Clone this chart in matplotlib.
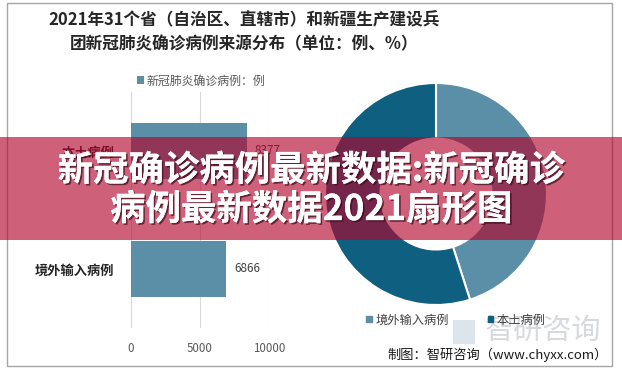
import matplotlib
matplotlib.use('Agg')
import matplotlib.pyplot as plt
import matplotlib.patheffects as pe
from matplotlib.patches import Rectangle

plt.rcParams['font.family'] = ['Noto Sans CJK SC', 'DejaVu Sans']

# Data
categories = ['本土病例', '境外输入病例']
cases = [8377, 6866]
pie_labels = ['境外输入病例', '本土病例']
pie_values = [6866, 8377]
x_ticks = [0, 5000, 10000]

title = '2021年31个省（自治区、直辖市）和新疆生产建设兵\n团新冠肺炎确诊病例来源分布（单位：例、%）'
banner = '新冠确诊病例最新数据:新冠确诊\n病例最新数据2021扇形图'
source = '制图：智研咨询（www.chyxx.com）'

W, H = 622, 378
light = '#5b8ea7'
dark = '#0e5f80'

fig = plt.figure(figsize=(W / 100, H / 100), dpi=100)

def fx(px):
    return px / W

def fy(py):
    return 1 - py / H

# Outer frame
fig.add_artist(Rectangle((fx(7), fy(366)), fx(605), (366 - 3) / H, transform=fig.transFigure,
                         fill=False, edgecolor='#a6a6a6', linewidth=1))

# Title
fig.text(fx(244), fy(32), title, ha='center', va='center', fontsize=12, fontweight='bold',
         color='#262626', linespacing=1.45)

# Bar chart
ax = fig.add_axes([fx(131), fy(328), fx(138), (328 - 92) / H])
ax.barh(categories, cases, height=0.47, color=light, label='新冠肺炎确诊病例：例', zorder=2)
ax.set_xlim(0, 10000)
ax.set_ylim(-0.5, 1.5)
ax.invert_yaxis()
ax.set_xticks(x_ticks)
ax.grid(axis='x', color='#d9d9d9', linewidth=0.8, zorder=0)
for s in ax.spines.values():
    s.set_visible(False)
ax.tick_params(axis='x', length=0, pad=10, labelsize=8.3, labelcolor='#595959')
ax.tick_params(axis='y', length=0, pad=12, labelsize=9.5)
for lab in ax.get_yticklabels():
    lab.set_fontweight('bold')
    lab.set_color('#262626')
for i, v in enumerate(cases):
    ax.text(v + 600, i, str(v), va='center', ha='left', fontsize=8.5, color='#404040')
ax.legend(loc='center left', bbox_to_anchor=(fx(126), fy(81)), bbox_transform=fig.transFigure,
          frameon=False, fontsize=8.6, handlelength=0.6, handleheight=0.6, handletextpad=0.2,
          labelcolor='#595959')

# Donut chart
r = 111
ax2 = fig.add_axes([fx(436 - r), fy(194 + r), fx(2 * r), 2 * r / H])
ax2.pie(pie_values, colors=[light, dark], startangle=90, counterclock=False, radius=1,
        wedgeprops=dict(width=0.5, edgecolor='white', linewidth=1.5))
ax2.set_xlim(-1, 1)
ax2.set_ylim(-1, 1)
ax2.set_aspect('equal')

# Watermark
fig.text(fx(543), fy(331), '智研咨询', ha='center', va='center', fontsize=21,
         color='#c9cdd2', alpha=0.75)
fig.add_artist(Rectangle((fx(453), fy(344)), fx(22), 24 / H, transform=fig.transFigure,
                         facecolor='#c5d3e0', edgecolor='none', alpha=0.6))

# Donut legend
handles = [Rectangle((0, 0), 1, 1, color=c) for c in [light, dark]]
fig.legend(handles, pie_labels, loc='center', bbox_to_anchor=(fx(456), fy(320)),
           ncol=2, frameon=False, fontsize=8.8, handlelength=0.45, handleheight=0.45,
           handletextpad=0.3, columnspacing=3.2, labelcolor='#404040')

# Source
fig.text(fx(608), fy(355), source, ha='right', va='center', fontsize=9.5, color='#1a1a1a')

# Overlay banner
fig.add_artist(Rectangle((0, fy(240)), 1, (240 - 137) / H, transform=fig.transFigure,
                         facecolor=(179 / 255, 3 / 255, 43 / 255), alpha=0.63,
                         edgecolor='none', zorder=10))
fig.text(0.5, fy(190), banner, ha='center', va='center', fontsize=25.5, fontweight='heavy',
         color='white', linespacing=1.15, zorder=11,
         path_effects=[pe.withSimplePatchShadow(offset=(1.2, -1.2), shadow_rgbFace='#3a0a18', alpha=0.7),
                       pe.Normal()])

fig.savefig('out.png', dpi=100)
